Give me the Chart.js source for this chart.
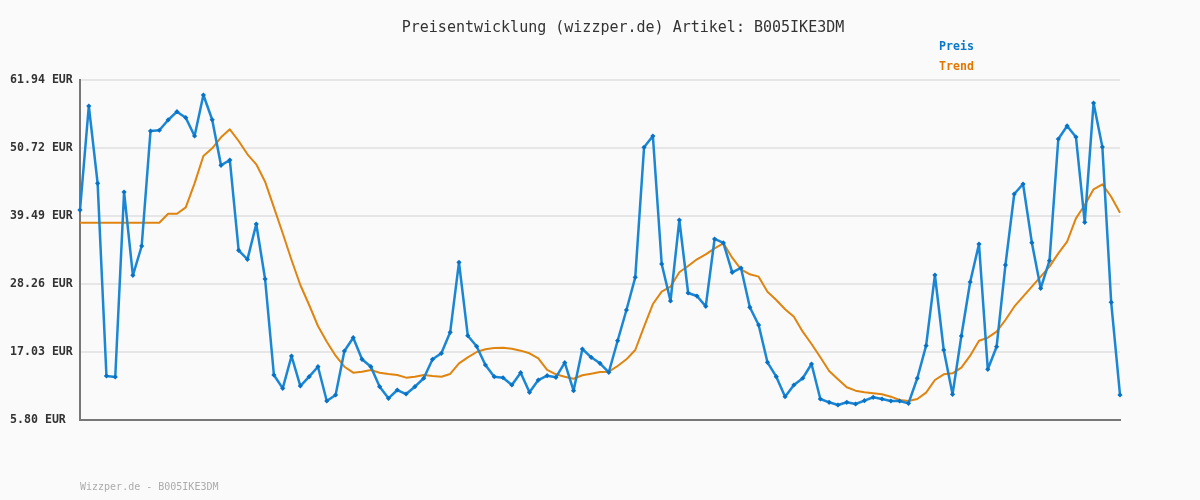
<!DOCTYPE html>
<html>
<head>
<meta charset="utf-8">
<title>Preisentwicklung B005IKE3DM</title>
<script src="https://cdn.jsdelivr.net/npm/chart.js@4/dist/chart.umd.min.js"></script>
<style>
  html, body { margin: 0; padding: 0; background: #fafafa; }
  #wrap { width: 1200px; height: 500px; position: relative; }
</style>
</head>
<body>
<div id="wrap"><canvas id="chart" width="1200" height="500"></canvas></div>
<script>
// Chart data
const chartTitle = 'Preisentwicklung (wizzper.de) Artikel: B005IKE3DM';
const footerText = 'Wizzper.de - B005IKE3DM';

const tickValues = [5.80, 17.03, 28.26, 39.49, 50.72, 61.94];
const tickLabels = ['5.80 EUR', '17.03 EUR', '28.26 EUR', '39.49 EUR', '50.72 EUR', '61.94 EUR'];

const preis = [
    40.47, 57.65, 44.88, 13.07, 12.90, 43.45, 29.69, 34.53, 53.52, 53.64,
    55.34, 56.71, 55.72, 52.69, 59.46, 55.38, 47.85, 48.73, 33.82, 32.33,
    38.16, 29.08, 13.23, 11.03, 16.37, 11.41, 12.95, 14.60, 8.94, 9.93,
    17.19, 19.39, 15.82, 14.60, 11.30, 9.38, 10.75, 10.09, 11.30, 12.69,
    15.82, 16.81, 20.28, 31.84, 19.72, 17.97, 14.88, 12.95, 12.78, 11.58,
    13.61, 10.37, 12.40, 13.12, 12.85, 15.26, 10.64, 17.52, 16.15, 15.16,
    13.68, 18.89, 23.96, 29.36, 50.83, 52.69, 31.56, 25.45, 38.82, 26.77,
    26.27, 24.57, 35.69, 35.03, 30.19, 30.90, 24.41, 21.49, 15.33, 12.95,
    9.65, 11.58, 12.69, 15.05, 9.27, 8.72, 8.28, 8.72, 8.44, 8.99,
    9.55, 9.27, 8.94, 8.94, 8.55, 12.69, 18.07, 29.74, 17.36, 10.04,
    19.67, 28.59, 34.86, 14.17, 17.90, 31.39, 43.12, 44.77, 35.08, 27.55,
    32.10, 52.20, 54.35, 52.53, 38.44, 58.14, 50.88, 25.23, 9.93
];

const trend = [
    38.38, 38.38, 38.38, 38.38, 38.38, 38.38, 38.38, 38.38, 38.38, 38.38,
    39.86, 39.86, 40.91, 44.88, 49.39, 50.66, 52.47, 53.79, 51.87, 49.67,
    48.02, 45.15, 40.91, 36.63, 32.22, 28.09, 24.79, 21.32, 18.73, 16.42,
    14.60, 13.61, 13.78, 14.06, 13.61, 13.40, 13.23, 12.79, 12.95, 13.23,
    13.07, 12.95, 13.40, 15.16, 16.15, 17.03, 17.47, 17.69, 17.74, 17.58,
    17.25, 16.81, 15.98, 14.06, 13.34, 12.95, 12.62, 13.18, 13.45, 13.73,
    13.78, 14.72, 15.82, 17.36, 21.21, 24.95, 26.99, 27.81, 30.19, 31.23,
    32.33, 33.16, 34.15, 34.98, 32.60, 30.68, 29.86, 29.47, 26.99, 25.61,
    24.08, 22.86, 20.38, 18.35, 16.15, 13.89, 12.52, 11.20, 10.64, 10.37,
    10.20, 10.04, 9.65, 9.10, 8.94, 9.27, 10.31, 12.40, 13.34, 13.51,
    14.44, 16.42, 18.89, 19.39, 20.38, 22.31, 24.51, 26.16, 27.81, 29.47,
    31.12, 33.32, 35.25, 39.10, 41.30, 43.89, 44.72, 42.67, 40.03
];

// one category per measurement, no labels shown on the x axis
const categories = preis.map((v, i) => i + 1);

const monoFont = '"DejaVu Sans Mono", "Liberation Mono", monospace';

// Title, legend and footer drawn as canvas text
const textPlugin = {
    id: 'textPlugin',
    afterDraw(chart) {
        const ctx = chart.ctx;
        ctx.save();
        ctx.textBaseline = 'middle';

        ctx.font = '15px ' + monoFont;
        ctx.fillStyle = '#333333';
        ctx.textAlign = 'center';
        ctx.fillText(chartTitle, 623, 28);

        ctx.textAlign = 'left';
        ctx.font = 'bold 11.6px ' + monoFont;
        chart.data.datasets.forEach(function(ds, i) {
            ctx.fillStyle = ds.legendColor;
            ctx.fillText(ds.label, 939, 47 + i * 20);
        });

        ctx.font = '10px ' + monoFont;
        ctx.fillStyle = '#acacac';
        ctx.fillText(footerText, 80, 487);
        ctx.restore();
    }
};

const bgPlugin = {
    id: 'bgPlugin',
    beforeDraw(chart) {
        const ctx = chart.ctx;
        ctx.save();
        ctx.fillStyle = '#fafafa';
        ctx.fillRect(0, 0, chart.width, chart.height);
        ctx.restore();
    }
};

const ctx = document.getElementById('chart').getContext('2d');
new Chart(ctx, {
    type: 'line',
    data: {
        labels: categories,
        datasets: [{
            label: 'Preis',
            data: preis,
            borderColor: '#1a86d4',
            backgroundColor: '#0a72c4',
            legendColor: '#0a78c8',
            borderWidth: 2.5,
            borderJoinStyle: 'round',
            pointStyle: 'rectRot',
            pointRadius: 2.6,
            pointBorderWidth: 0,
            tension: 0,
            order: 1
        }, {
            label: 'Trend',
            data: trend,
            borderColor: '#e08410',
            legendColor: '#e07800',
            borderWidth: 2,
            borderJoinStyle: 'round',
            pointRadius: 0,
            tension: 0,
            order: 2
        }]
    },
    options: {
        responsive: false,
        animation: false,
        layout: {
            padding: { left: 10, right: 80, top: 80, bottom: 80 }
        },
        plugins: {
            legend: { display: false },
            title: { display: false },
            tooltip: { enabled: false }
        },
        scales: {
            x: {
                offset: false,
                grid: { display: false, drawTicks: false },
                border: { display: true, color: '#777777', width: 2 },
                ticks: { display: false },
                afterFit: function(scale) { scale.height = 0; }
            },
            y: {
                min: 5.80,
                max: 61.94,
                afterFit: function(scale) { scale.width = 70; },
                afterBuildTicks: function(scale) {
                    scale.ticks = tickValues.map(v => ({ value: v }));
                },
                grid: {
                    color: '#e6e6e6',
                    lineWidth: 2,
                    drawTicks: false
                },
                border: { display: true, color: '#777777', width: 2 },
                ticks: {
                    crossAlign: 'far',
                    color: '#333333',
                    font: { family: monoFont, size: 11.6, weight: 'bold' },
                    callback: function(value, index) {
                        return tickLabels[index];
                    }
                }
            }
        }
    },
    plugins: [bgPlugin, textPlugin]
});
</script>
</body>
</html>
